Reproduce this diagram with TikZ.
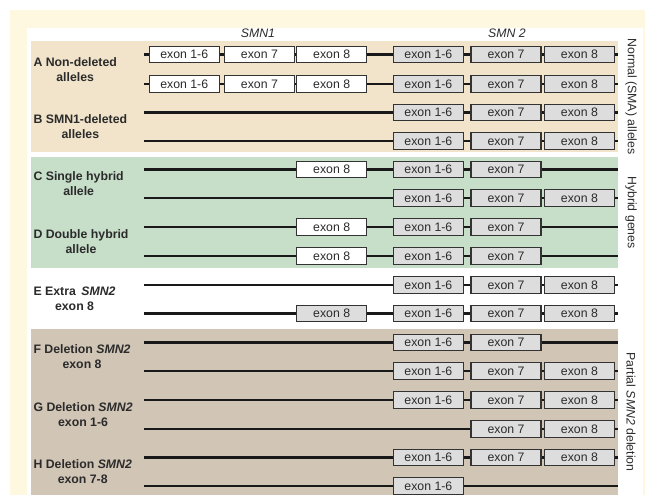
\documentclass[tikz,border=0pt]{standalone}
\usepackage{fontspec}
\setmainfont{Liberation Sans}
\usepackage{xcolor}
\usepackage{tikz}
\definecolor{cream}{HTML}{FFF8E1}
\definecolor{normal}{HTML}{F2E4CA}
\definecolor{hybrid}{HTML}{C7DEC9}
\definecolor{partial}{HTML}{D1C5B5}
\definecolor{exw}{HTML}{FFFFFF}
\definecolor{exg}{HTML}{DDDDDD}
\definecolor{exline}{HTML}{333333}
\definecolor{ink}{HTML}{2B2B2B}
\newcommand{\exname}[1]{\ifcase#1\or exon 1-6\or exon 7\or exon 8\or exon 1-6\or exon 7\or exon 8\fi}

\begin{document}
\begin{tikzpicture}[x=1pt,y=-1pt,font=\fontsize{12.3}{15}\selectfont,
  exon/.style={draw=exline,line width=1.2pt,minimum width=70pt,minimum height=16.5pt,inner sep=0pt,text=ink},
  gene/.style={line width=2.7pt,black!90},
  rowlabel/.style={anchor=west,align=center,font=\fontsize{12.3}{15}\selectfont\bfseries,text=ink},
  side/.style={rotate=-90,text=ink}]
\useasboundingbox (0,0) rectangle (645,495);
% background and the three shaded groups
\fill[cream] (10,10) rectangle (645,495);
\fill[white] (27,28) rectangle (643,495);
\fill[normal] (31,41) rectangle (618,152);
\fill[hybrid] (31,157) rectangle (618,268);
\fill[partial] (31,329) rectangle (618,495);
% exon columns: SMN1 = 1-3, SMN2 = 4-6
\foreach \c/\x in {1/184.2,2/259.4,3/331.7,4/428.4,5/506,6/579.4} {\coordinate (col\c) at (\x,0);}
\node[font=\fontsize{12.3}{15}\selectfont\itshape,text=ink] (smn1) at (258,33) {SMN1};
\node[font=\fontsize{12.3}{15}\selectfont\itshape,text=ink] (smn2) at (507,33) {SMN 2};
% the alleles, one line each: number / height / boxes (column/fill)
\foreach \r/\y/\boxes in {
  1/54.5/{1/w,2/w,3/w,4/g,5/g,6/g},
  2/84/{1/w,2/w,3/w,4/g,5/g,6/g},
  3/112.5/{4/g,5/g,6/g},
  4/141/{4/g,5/g,6/g},
  5/169.5/{3/w,4/g,5/g},
  6/198/{4/g,5/g,6/g},
  7/227/{3/w,4/g,5/g},
  8/256/{3/w,4/g,5/g},
  9/285/{4/g,5/g,6/g},
  10/313.5/{3/g,4/g,5/g,6/g},
  11/342.5/{4/g,5/g},
  12/371/{4/g,5/g,6/g},
  13/400/{4/g,5/g,6/g},
  14/429/{5/g,6/g},
  15/457.5/{4/g,5/g,6/g},
  16/486/{4/g}} {
  \coordinate (rs\r) at (144,\y);
  \coordinate (re\r) at (618,\y);
  \draw[gene] (rs\r) -- (re\r);
  \foreach \c/\f in \boxes {\node[exon,fill=ex\f] (r\r x\c) at (col\c |- rs\r) {\exname{\c}};}
}
% case labels
\node[rowlabel] (labA) at (30,69.25) {A Non-deleted\\alleles};
\node[rowlabel] (labB) at (30,126.75) {B SMN1-deleted\\alleles};
\node[rowlabel] (labC) at (30,183.75) {C Single hybrid\\allele};
\node[rowlabel] (labD) at (30,241.5) {D Double hybrid\\allele};
\node[rowlabel] (labE) at (30,299.25) {E Extra \,\textit{SMN2}\\exon 8};
\node[rowlabel] (labF) at (30,356.75) {F Deletion \textit{SMN2}\\exon 8};
\node[rowlabel] (labG) at (30,414.5) {G Deletion \textit{SMN2}\\exon 1-6};
\node[rowlabel] (labH) at (30,471.75) {H Deletion \textit{SMN2}\\exon 7-8};
% group names down the right side
\node[side] (grpnormal) at (631,96.5) {Normal (SMA) alleles};
\node[side] (grphybrid) at (631,212.5) {Hybrid genes};
\node[side] (grppartial) at (631,412) {Partial \textit{SMN2} deletion};
\end{tikzpicture}
\end{document}
